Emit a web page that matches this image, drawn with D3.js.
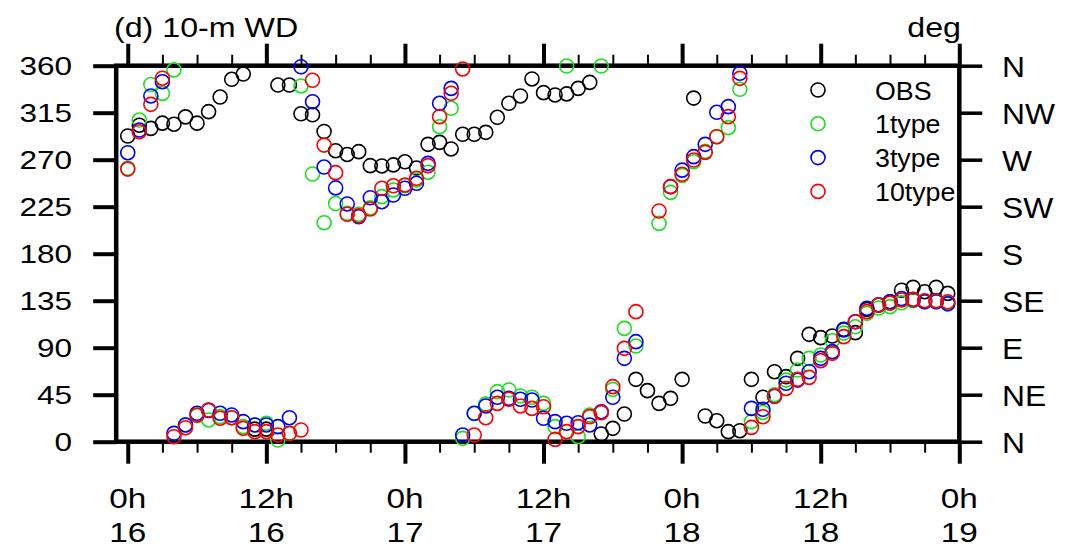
<!DOCTYPE html>
<html>
<head>
<meta charset="utf-8">
<script src="https://cdn.jsdelivr.net/npm/d3@7"></script>
<style>
body { margin: 0; background: #fff; }
text { font-family: "Liberation Sans", Arial, sans-serif; fill: #000; }
</style>
</head>
<body>
<div id="chart"></div>
<script>
// hours since 0h on the 16th, one value per hour (null = no point drawn)
var hours = d3.range(0, 72);

var obs = [292.7, 303, 300, 305, 304, 311, 305, 316, 330, 347, 352, 12, 12, 341.5, 341.5, 314,
    313, 297, 278.6, 275, 277.7, 264.3, 264, 265, 268, 262, 284.7, 286.6, 280.3, 294.3, 294.3, 296.2,
    310.6, 324, 331, 347.3, 334.2, 332, 333, 338.3, 344, 7.4, 12.8, 26.5, 59.7, 48.9, 36.7, 41.5,
    59.7, 329, 24.6, 20.1, 9.6, 10.5, 59.7, 42.5, 67, 62.3, 79.8, 102.8, 99.6, 101.2, 107.6, 104.4,
    126.7, 130.9, 134, 145, 147.8, 143.6, 147.8, 142];

var type1 = [261.8, 308, 342, 333.5, 356, 16, 25, 20.8, 24, 23, 14.4, 16, 17.6, 1.6, 8, 340.6,
    256.3, 209.7, 228, 218.7, 217.7, 224, 234.6, 241, 245, 250.6, 258, 301.6, 319.2, 3.2, 27, 36,
    47.9, 49.5, 43.8, 42.5, 36.7, 14.4, 359.7, 4.8, 25.6, 359.7, 50, 108.5, 91.6, null, 209, 238.7,
    255, 268, 278, 292, 300.7, 337.4, 19.2, 28, 45, 59, 68.6, 79.8, 83, 96.7, 104, 110,
    122.9, 128, 129.3, 133, 135, 134, 134, 133];

var type3 = [276.7, 298.4, 331, 344.7, 8, 16, 27.2, 30, 27.2, 25.6, 19.2, 16, 16, 14.4, 23, 359,
    325.5, 263, 243, 227.6, 215.5, 233.6, 229.8, 236.2, 242.6, 247.4, 266.5, 324, 338.3, 6.4, 27.2, 34.2,
    42.5, 41.5, 40.6, 39.9, 22.4, 19.2, 17.6, 18.2, 16, 28.7, 42.5, 79.8, 95.8, null, null, 244.2,
    260, 272.9, 284.7, 315.4, 320.8, 352.7, 31.9, 31, 43.5, 55.9, 59, 67, 79.8, 86.2, 107, 114.9,
    127.7, 130.9, 134, 137, 136, 134, 134, 132];

var type10 = [261, 296.8, 323, 348, 4.8, 13.4, 25.6, 30.3, 22.4, 23, 12.8, 9.6, 9.6, 6.4, 8, 11.2,
    346, 284, 257.6, 217.7, 216.4, 222.8, 242.6, 245, 245.8, 252.2, 264.3, 311.2, 333.6, 356.9, 6.4, 23,
    36.7, 40.6, 34.2, 31.9, 33.5, 2.2, 9.6, 14.4, 24, 27.8, 52.7, 89.4, 124.5, null, 220.9, 244.2,
    256, 269.7, 277, 292, 311.2, 347.9, 13.7, 23.9, 43.5, 51, 59.7, 61.6, 77.6, 84.6, 100.6, 114.9,
    124.5, 130.9, 132.5, 135.7, 136.3, 135, 135, 134];

var seriesNames = ['OBS', '1type', '3type', '10type'];
var seriesColors = ['#000000', '#1ee01e', '#0000ff', '#ff0000'];

// tick labels
var majorHours = [0, 12, 24, 36, 48, 60, 72];
var minorHours = d3.range(3, 72, 3).filter(function(h) { return h % 12 != 0; });
var hourLabels = ['0h', '12h', '0h', '12h', '0h', '12h', '0h'];
var dayLabels = ['16', '16', '17', '17', '18', '18', '19'];
var degTicks = [0, 45, 90, 135, 180, 225, 270, 315, 360];
var dirLabels = ['N', 'NE', 'E', 'SE', 'S', 'SW', 'W', 'NW', 'N'];

var svg = d3.select('#chart').append('svg')
    .attr('width', 1066)
    .attr('height', 548);

var x = d3.scaleLinear().domain([-1, 72]).range([116.2, 959.3]);
var y = d3.scaleLinear().domain([0, 360]).range([441.7, 65.7]);

// ticks only, the frame is drawn as one rect
function ticks(axis, pos, size, width) {
    var g = svg.append('g').attr('transform', pos).call(axis.tickSize(size).tickFormat(''));
    g.select('.domain').remove();
    g.selectAll('line').attr('stroke', '#000').attr('stroke-width', width);
    return g;
}

ticks(d3.axisTop(x).tickValues(majorHours), 'translate(0,' + y(360) + ')', 22, 4);
ticks(d3.axisTop(x).tickValues(minorHours), 'translate(0,' + y(360) + ')', 11, 2);
ticks(d3.axisBottom(x).tickValues(majorHours), 'translate(0,' + y(0) + ')', 22, 4);
ticks(d3.axisBottom(x).tickValues(minorHours), 'translate(0,' + y(0) + ')', 11, 2);
ticks(d3.axisLeft(y).tickValues(degTicks), 'translate(' + x(-1) + ',0)', 23, 4);
ticks(d3.axisRight(y).tickValues(degTicks), 'translate(' + x(72) + ',0)', 23, 3.5);

svg.append('rect')
    .attr('x', x(-1))
    .attr('y', y(360))
    .attr('width', x(72) - x(-1))
    .attr('height', y(0) - y(360))
    .attr('fill', 'none')
    .attr('stroke', '#000')
    .attr('stroke-width', 4.5);

// left labels (degrees)
svg.selectAll('.ylab').data(degTicks).enter().append('text')
    .attr('class', 'ylab')
    .attr('text-anchor', 'end')
    .attr('font-size', 26.5)
    .attr('transform', function(d) { return 'translate(72,' + (y(d) + 9) + ') scale(1.19,1)'; })
    .text(function(d) { return d; });

// right labels (compass)
svg.selectAll('.rlab').data(degTicks).enter().append('text')
    .attr('class', 'rlab')
    .attr('font-size', 30)
    .attr('transform', function(d) { return 'translate(1002,' + (y(d) + 11) + ') scale(1.06,1)'; })
    .text(function(d, i) { return dirLabels[i]; });

// bottom labels, two lines
svg.selectAll('.hlab').data(majorHours).enter().append('text')
    .attr('class', 'hlab')
    .attr('text-anchor', 'middle')
    .attr('font-size', 28.5)
    .attr('transform', function(d) { return 'translate(' + x(d) + ',508) scale(1.17,1)'; })
    .text(function(d, i) { return hourLabels[i]; });

svg.selectAll('.dlab').data(majorHours).enter().append('text')
    .attr('class', 'dlab')
    .attr('text-anchor', 'middle')
    .attr('font-size', 28.5)
    .attr('transform', function(d) { return 'translate(' + x(d) + ',541.5) scale(1.17,1)'; })
    .text(function(d, i) { return dayLabels[i]; });

// title and unit
svg.append('text')
    .attr('font-size', 28)
    .attr('transform', 'translate(114,36.5) scale(1.15,1)')
    .text('(d) 10-m WD');

svg.append('text')
    .attr('font-size', 28)
    .attr('text-anchor', 'end')
    .attr('transform', 'translate(961,36.5) scale(1.15,1)')
    .text('deg');

// the four series as open circles
var allSeries = [obs, type1, type3, type10];
allSeries.forEach(function(vals, s) {
    svg.append('g').selectAll('circle')
        .data(hours.filter(function(h) { return vals[h] != null; }))
        .enter().append('circle')
        .attr('cx', function(h) { return x(h); })
        .attr('cy', function(h) { return y(vals[h]); })
        .attr('r', 7)
        .attr('fill', 'none')
        .attr('stroke', seriesColors[s])
        .attr('stroke-width', 1.6);
});

// legend
var legend = svg.append('g');
seriesNames.forEach(function(name, i) {
    var ly = 90 + i * 33.8;
    legend.append('circle')
        .attr('cx', 818)
        .attr('cy', ly)
        .attr('r', 7)
        .attr('fill', 'none')
        .attr('stroke', seriesColors[i])
        .attr('stroke-width', 1.6);
    legend.append('text')
        .attr('font-size', 25.5)
        .attr('transform', 'translate(875,' + (ly + 9.5) + ') scale(1.05,1)')
        .text(name);
});
</script>
</body>
</html>
